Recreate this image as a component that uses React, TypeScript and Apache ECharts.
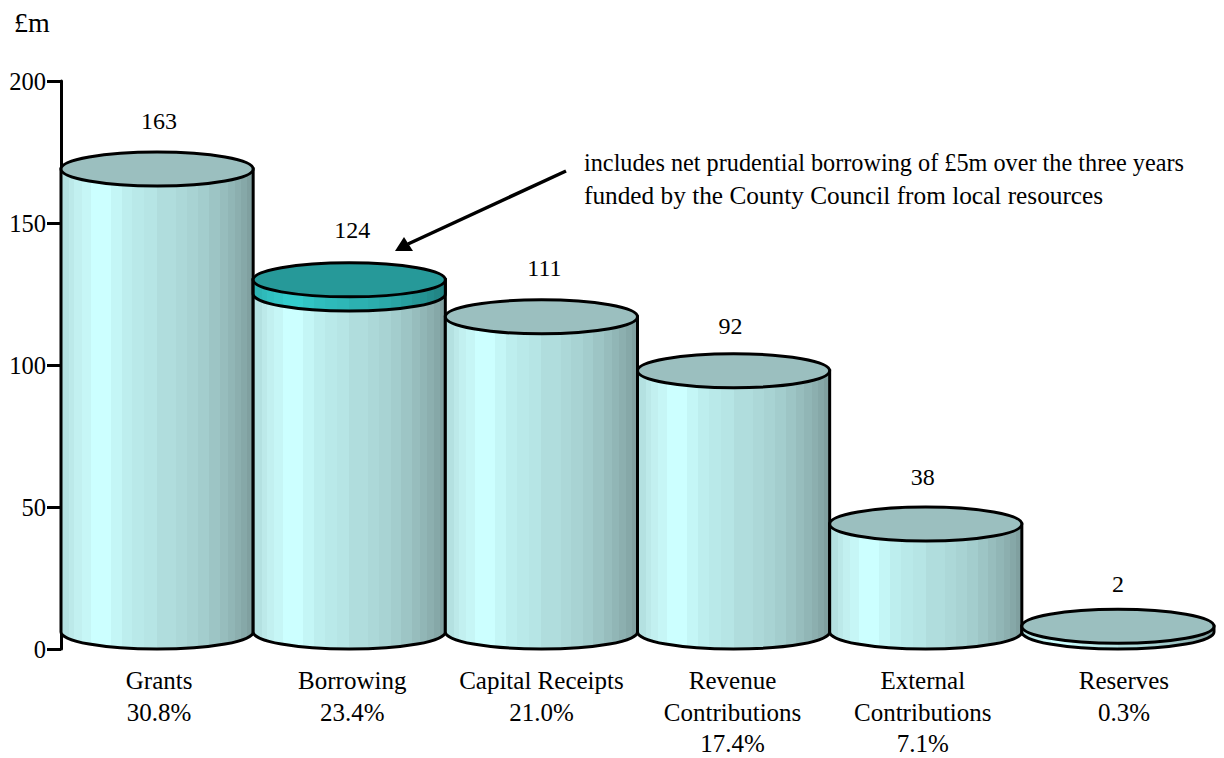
import React, { useEffect, useRef } from "react";
import * as echarts from "echarts";

const categories = ["Grants", "Borrowing", "Capital Receipts", "Revenue\nContributions", "External\nContributions", "Reserves"];
const shares = ["30.8%", "23.4%", "21.0%", "17.4%", "7.1%", "0.3%"];
const totals = [163, 124, 111, 92, 38, 2];
const highlighted = [0, 5, 0, 0, 0, 0];
const yTicks = { min: 0, max: 200, step: 50 };
const note = ["includes net prudential borrowing of £5m over the three years", "funded by the County Council from local resources"];

const FONT = "'Liberation Serif', 'Times New Roman', serif";
const FS = 24;
const ELLIPSE_RY = 17;
const LABEL_DX = [2, 3, 3, -3, -3, 0];
const LABEL_DY = [1, -1, 0, 4, 2, 7];
const AXIS_LABEL_DX = [2, 3, 0, -1, -3, 6];

const stripeEdges = [0, 0.044, 0.07, 0.108, 0.154, 0.206, 0.259, 0.315, 0.372, 0.434, 0.5, 0.6, 0.656, 0.715, 0.771, 0.825, 0.867, 0.906, 0.939, 0.97, 1];
const stripeColors = ["#b4e1e1", "#bce9e9", "#c2f0f0", "#c6f6f6", "#ccffff", "#ccffff", "#c4f6f6", "#bdeeee", "#b9e9e9", "#b6e5e5", "#b0dddd", "#acd8d8", "#a8d3d3", "#a3cdcd", "#9dc5c5", "#97bdbd", "#91b6b6", "#8cafaf", "#86a8a8", "#80a0a0"];

const tint = (hex: string) => {
  const n = parseInt(hex.slice(1), 16);
  const r = Math.round(((n >> 16) & 255) * 0.25);
  const g = Math.round(((n >> 8) & 255) * 0.8);
  const b = Math.round((n & 255) * 0.8);
  return `rgb(${r},${g},${b})`;
};

const stripes = (map: (c: string) => string) => {
  const colorStops: { offset: number; color: string }[] = [];
  stripeColors.forEach((c, i) => {
    colorStops.push({ offset: stripeEdges[i], color: map(c) });
    colorStops.push({ offset: stripeEdges[i + 1], color: map(c) });
  });
  return new echarts.graphic.LinearGradient(0, 0, 1, 0, colorStops);
};

const cylinderPath = (x0: number, x1: number, top: number, bottom: number, ry: number) => {
  const rx = (x1 - x0) / 2;
  return {
    type: "path",
    shape: {
      pathData: `M${x0} ${top}L${x0} ${bottom}A${rx} ${ry} 0 0 0 ${x1} ${bottom}L${x1} ${top}Z`,
      layout: "cover",
      x: x0,
      y: top,
      width: x1 - x0,
      height: bottom - top + ry,
    },
  };
};

const renderItem = (params: any, api: any) => {
  const i = api.value(0);
  const total = api.value(1);
  const extra = api.value(2);
  const cx = api.coord([i, 0])[0];
  const band = api.size([1, 0])[0];
  const x0 = cx - band / 2;
  const x1 = cx + band / 2;
  const ry = ELLIPSE_RY;
  const yOf = (v: number) => api.coord([i, v])[1] - ry;
  const lineStyle = { stroke: "#000", lineWidth: 3 };
  const children: any[] = [
    { ...cylinderPath(x0, x1, yOf(total), yOf(0), ry), style: { fill: stripes((c) => c), ...lineStyle } },
  ];
  if (extra > 0) {
    children.push({
      ...cylinderPath(x0, x1, yOf(total), yOf(total - extra), ry),
      style: { fill: stripes(tint), ...lineStyle },
    });
  }
  children.push({
    type: "ellipse",
    shape: { cx, cy: yOf(total), rx: band / 2, ry },
    style: { fill: extra > 0 ? "#269999" : "#9bbfbf", ...lineStyle },
  });
  children.push({
    type: "text",
    style: {
      text: String(total),
      x: cx + LABEL_DX[i],
      y: yOf(total) - ry - 32 + LABEL_DY[i],
      align: "center",
      verticalAlign: "middle",
      font: `${FS}px ${FONT}`,
      fill: "#000",
    },
  });
  return { type: "group", children };
};

export default function App() {
  const ref = useRef<HTMLDivElement>(null);
  useEffect(() => {
    const chart = echarts.init(ref.current!, null, { renderer: "svg" });
    chart.setOption({
      animation: false,
      backgroundColor: "#fff",
      textStyle: { fontFamily: FONT },
      grid: { left: 61, top: 81, width: 1153, height: 568, outerBoundsMode: "none" },
      xAxis: {
        type: "category",
        data: categories.map((c, i) => ({
          value: `${c}\n${shares[i]}`,
          textStyle: {
            padding: AXIS_LABEL_DX[i] > 0 ? [0, 0, 0, AXIS_LABEL_DX[i] * 2] : [0, -AXIS_LABEL_DX[i] * 2, 0, 0],
          },
        })),
        axisLine: { show: false },
        axisTick: { show: false },
        axisLabel: { interval: 0, margin: 16, color: "#000", fontSize: 25, lineHeight: 31.5, fontFamily: FONT },
      },
      yAxis: {
        type: "value",
        min: yTicks.min,
        max: yTicks.max,
        interval: yTicks.step,
        splitLine: { show: false },
        axisLine: { show: true, lineStyle: { color: "#000", width: 3 } },
        axisTick: { show: true, length: 14, lineStyle: { color: "#000", width: 3 } },
        axisLabel: { margin: 15, color: "#000", fontSize: 24.5, fontFamily: FONT },
      },
      series: [
        {
          type: "custom",
          renderItem,
          clip: false,
          encode: { x: 0, y: 1 },
          data: totals.map((t, i) => [i, t, highlighted[i]]),
        },
      ],
      graphic: [
        { type: "text", x: 14, y: 8, style: { text: "£m", font: `28px ${FONT}`, fill: "#000" } },
        { type: "text", x: 584, y: 150, style: { text: note[0], font: `24.25px ${FONT}`, fill: "#000" } },
        { type: "text", x: 584, y: 182, style: { text: note[1], font: `25.3px ${FONT}`, fill: "#000" } },
        { type: "line", shape: { x1: 566, y1: 171, x2: 408, y2: 244 }, style: { stroke: "#000", lineWidth: 3.5 } },
        { type: "polygon", shape: { points: [[395, 251], [404, 237], [413, 251]] }, style: { fill: "#000" } },
      ],
    });
    return () => chart.dispose();
  }, []);
  return <div ref={ref} style={{ position: "fixed", left: 0, top: 0, width: 1224, height: 758 }} />;
}
